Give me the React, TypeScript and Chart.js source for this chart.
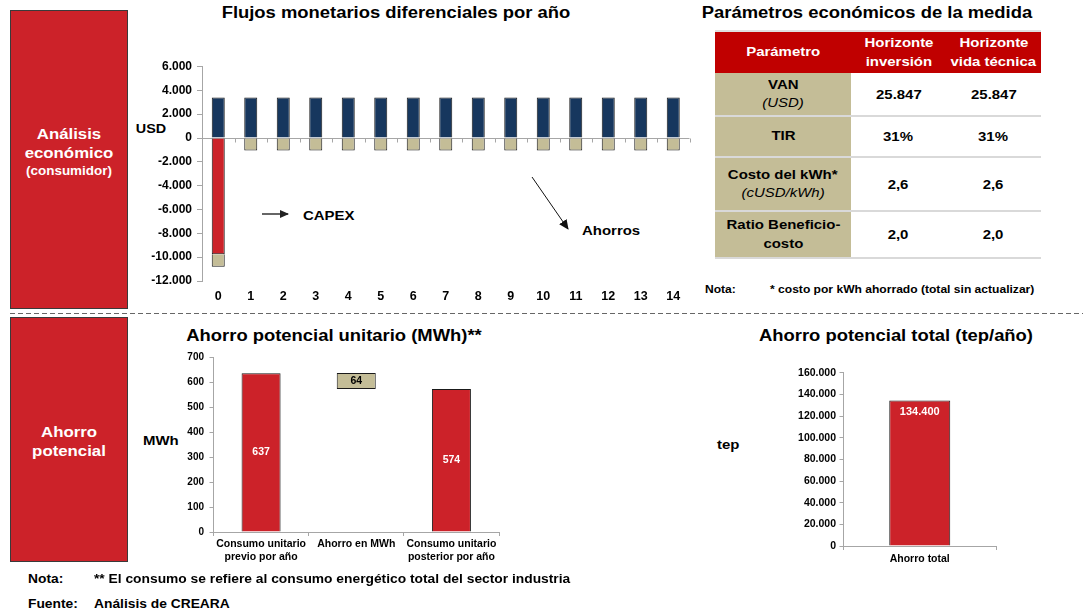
import React, { useEffect, useRef } from 'react';
import { Chart, registerables } from 'chart.js';

Chart.register(...registerables);

const FONT = '"Liberation Sans", Arial, sans-serif';
Chart.defaults.font.family = FONT;

const RED = '#CC2229';
const NAVY = '#17375E';
const KHAKI = '#C4BD97';
const HEAD_RED = '#C00000';
const AXIS = '#A6A6A6';
const EDGE = '#1A1A1A';
const SX = 1.15;

// ---------- Chart 1: Flujos monetarios diferenciales por año ----------
const years = ['0', '1', '2', '3', '4', '5', '6', '7', '8', '9', '10', '11', '12', '13', '14'];
const ahorrosUSD = [3400, 3400, 3400, 3400, 3400, 3400, 3400, 3400, 3400, 3400, 3400, 3400, 3400, 3400, 3400];
const capexUSD = [-9750, null, null, null, null, null, null, null, null, null, null, null, null, null, null];
const oymUSD = [-1050, -1050, -1050, -1050, -1050, -1050, -1050, -1050, -1050, -1050, -1050, -1050, -1050, -1050, -1050];
const flujoMin = -12000;
const flujoMax = 6000;
const flujoStep = 2000;

// ---------- Chart 2: Ahorro potencial unitario (MWh) ----------
const unitCategories = [['Consumo unitario', 'previo por año'], 'Ahorro en MWh', ['Consumo unitario', 'posterior por año']];
const consumoPrevioMWh = 637;
const ahorroMWh = 64;
const consumoPosteriorMWh = 574;
const unitMax = 700;
const unitStep = 100;

// ---------- Chart 3: Ahorro potencial total (tep/año) ----------
const totalCategories = ['Ahorro total'];
const ahorroTotalTep = [134400];
const totalMax = 160000;
const totalStep = 20000;

// ---------- Table ----------
const paramHeaders = [['Parámetro'], ['Horizonte', 'inversión'], ['Horizonte', 'vida técnica']];
const paramNames = [['VAN'], ['TIR'], ['Costo del kWh*'], ['Ratio Beneficio-', 'costo']];
const paramUnits = ['(USD)', '', '(cUSD/kWh)', ''];
const horizonteInversion = ['25.847', '31%', '2,6', '2,0'];
const horizonteVidaTecnica = ['25.847', '31%', '2,6', '2,0'];

const fmtThousands = (v: number) => {
  const s = Math.round(Math.abs(v)).toString().replace(/\B(?=(\d{3})+(?!\d))/g, '.');
  return (v < 0 ? '-' : '') + s;
};

const tickFont = (size: number) => ({ family: FONT, size, weight: 'bold' as const });

const zeroTicks = {
  id: 'zeroTicks',
  afterDatasetsDraw(chart: any) {
    const xs = chart.scales.x;
    const ys = chart.scales.y;
    const y0 = Math.round(ys.getPixelForValue(0)) + 0.5;
    const ctx = chart.ctx;
    ctx.save();
    ctx.strokeStyle = AXIS;
    ctx.lineWidth = 1;
    ctx.beginPath();
    for (let i = 0; i <= years.length; i++) {
      const px = Math.round(xs.getPixelForValue(i - 0.5)) + 0.5;
      ctx.moveTo(px, y0);
      ctx.lineTo(px, y0 + 4);
    }
    ctx.stroke();
    ctx.restore();
  },
};

const valueLabels = (texts: string[], colors: string[], size: number, mode: 'center' | 'top') => ({
  id: 'valueLabels',
  afterDatasetsDraw(chart: any) {
    const ctx = chart.ctx;
    const meta = chart.getDatasetMeta(0);
    meta.data.forEach((el: any, i: number) => {
      const p = el.getProps(['x', 'y', 'base'], true);
      const top = Math.min(p.y, p.base);
      const yy = mode === 'center' ? (p.y + p.base) / 2 : top + 12;
      ctx.save();
      ctx.font = `bold ${size}px ${FONT}`;
      ctx.fillStyle = colors[i];
      ctx.textAlign = 'center';
      ctx.textBaseline = 'middle';
      ctx.fillText(texts[i], p.x, yy);
      ctx.restore();
    });
  },
});

const flujoConfig = (): any => ({
  type: 'bar',
  data: {
    labels: years,
    datasets: [
      { data: ahorrosUSD, backgroundColor: NAVY, borderColor: EDGE, borderWidth: 1 },
      { data: capexUSD, backgroundColor: RED, borderColor: EDGE, borderWidth: 1 },
      { data: oymUSD, backgroundColor: KHAKI, borderColor: EDGE, borderWidth: 1 },
    ],
  },
  options: {
    responsive: false,
    animation: false,
    layout: { padding: { top: 26.5, right: 10.5, bottom: 0, left: 0 } },
    plugins: { legend: { display: false }, tooltip: { enabled: false } },
    datasets: { bar: { categoryPercentage: 1, barPercentage: 0.4 } },
    scales: {
      x: {
        stacked: true,
        grid: { display: false, drawTicks: false },
        border: { display: false },
        ticks: { color: '#000', font: tickFont(12.5), padding: 8, maxRotation: 0, autoSkip: false },
        afterFit: (s: any) => { s.height = 34; },
      },
      y: {
        stacked: true,
        min: flujoMin,
        max: flujoMax,
        ticks: { stepSize: flujoStep, color: '#000', font: tickFont(12), padding: 5, callback: (v: any) => fmtThousands(Number(v)) },
        grid: {
          color: (c: any) => (c.tick && c.tick.value === 0 ? AXIS : 'rgba(0,0,0,0)'),
          tickColor: AXIS,
          tickLength: 5,
        },
        border: { color: AXIS },
        afterFit: (s: any) => { s.width = 72; },
      },
    },
  },
  plugins: [zeroTicks],
});

const unitConfig = (): any => ({
  type: 'bar',
  data: {
    labels: unitCategories,
    datasets: [
      {
        data: [
          [0, consumoPrevioMWh],
          [consumoPosteriorMWh, consumoPosteriorMWh + ahorroMWh],
          [0, consumoPosteriorMWh],
        ],
        backgroundColor: [RED, KHAKI, RED],
        borderColor: EDGE,
        borderWidth: 1,
        borderSkipped: (c: any) => (c.dataIndex === 1 ? false : 'start'),
      },
    ],
  },
  options: {
    responsive: false,
    animation: false,
    layout: { padding: { top: 17.5, right: 11, bottom: 0, left: 0 } },
    plugins: { legend: { display: false }, tooltip: { enabled: false } },
    datasets: { bar: { categoryPercentage: 1, barPercentage: 0.41 } },
    scales: {
      x: {
        grid: { display: true, drawOnChartArea: false, drawTicks: true, tickLength: 4, color: AXIS },
        border: { color: AXIS },
        ticks: { color: '#000', font: { ...tickFont(10.5), lineHeight: 1.25 }, padding: 1.5, maxRotation: 0, autoSkip: false },
        afterFit: (s: any) => { s.height = 43; },
      },
      y: {
        min: 0,
        max: unitMax,
        ticks: { stepSize: unitStep, color: '#000', font: tickFont(10), padding: 5.5 },
        grid: { drawOnChartArea: false, tickLength: 4, color: AXIS },
        border: { color: AXIS },
        afterFit: (s: any) => { s.width = 73.5; },
      },
    },
  },
  plugins: [
    valueLabels(
      [String(consumoPrevioMWh), String(ahorroMWh), String(consumoPosteriorMWh)],
      ['#fff', '#000', '#fff'],
      10.5,
      'center'
    ),
  ],
});

const totalConfig = (): any => ({
  type: 'bar',
  data: {
    labels: totalCategories,
    datasets: [{ data: ahorroTotalTep, backgroundColor: RED, borderColor: EDGE, borderWidth: 1 }],
  },
  options: {
    responsive: false,
    animation: false,
    layout: { padding: { top: 17.7, right: 24, bottom: 0, left: 0 } },
    plugins: { legend: { display: false }, tooltip: { enabled: false } },
    datasets: { bar: { categoryPercentage: 1, barPercentage: 0.4 } },
    scales: {
      x: {
        grid: { display: true, drawOnChartArea: false, drawTicks: true, tickLength: 4, color: AXIS },
        border: { color: AXIS },
        ticks: { color: '#000', font: { ...tickFont(10.5), lineHeight: 1.25 }, padding: 2.4, maxRotation: 0, autoSkip: false },
        afterFit: (s: any) => { s.height = 34; },
      },
      y: {
        min: 0,
        max: totalMax,
        ticks: { stepSize: totalStep, color: '#000', font: tickFont(10.5), padding: 3.5, callback: (v: any) => fmtThousands(Number(v)) },
        grid: { drawOnChartArea: false, tickLength: 4, color: AXIS },
        border: { color: AXIS },
        afterFit: (s: any) => { s.width = 83.5; },
      },
    },
  },
  plugins: [valueLabels(ahorroTotalTep.map(fmtThousands), ['#fff'], 11, 'top')],
});

function ChartCanvas(props: { left: number; top: number; width: number; height: number; config: () => any }) {
  const ref = useRef<HTMLCanvasElement | null>(null);
  useEffect(() => {
    const chart = new Chart(ref.current as HTMLCanvasElement, props.config());
    return () => chart.destroy();
  }, []);
  return (
    <canvas
      ref={ref}
      width={props.width}
      height={props.height}
      style={{ position: 'absolute', left: props.left, top: props.top, width: props.width, height: props.height, display: 'block' }}
    />
  );
}

function Txt(props: {
  x: number;
  y: number;
  size: number;
  children: React.ReactNode;
  align?: 'center' | 'left';
  color?: string;
  italic?: boolean;
  weight?: string;
  sx?: number;
}) {
  const center = (props.align || 'center') === 'center';
  const sx = props.sx ?? SX;
  return (
    <div
      style={{
        position: 'absolute',
        left: props.x,
        top: props.y,
        fontSize: props.size,
        lineHeight: 1,
        fontWeight: (props.weight || 'bold') as any,
        fontStyle: props.italic ? 'italic' : 'normal',
        color: props.color || '#000',
        whiteSpace: 'nowrap',
        transformOrigin: center ? 'center center' : 'left center',
        transform: center ? `translate(-50%, -50%) scaleX(${sx})` : `translateY(-50%) scaleX(${sx})`,
      }}
    >
      {props.children}
    </div>
  );
}

function Cell(props: { left: number; top: number; width: number; height: number; bg: string; children: React.ReactNode }) {
  return (
    <div
      style={{
        position: 'absolute',
        left: props.left,
        top: props.top,
        width: props.width,
        height: props.height,
        background: props.bg,
        display: 'flex',
        flexDirection: 'column',
        alignItems: 'center',
        justifyContent: 'center',
      }}
    >
      {props.children}
    </div>
  );
}

function Line(props: { text: string; color?: string; italic?: boolean; bold?: boolean }) {
  return (
    <div
      style={{
        fontSize: 13,
        lineHeight: '18.5px',
        fontWeight: props.bold === false ? 'normal' : 'bold',
        fontStyle: props.italic ? 'italic' : 'normal',
        color: props.color || '#000',
        whiteSpace: 'nowrap',
        transform: `scaleX(${SX})`,
      }}
    >
      {props.text}
    </div>
  );
}

const tableLeft = 715;
const colEdges = [715, 851, 946, 1041];
const headTop = 32;
const headBottom = 73;
const rowTops = [73, 117, 158, 212];
const rowBottoms = [115, 156, 210, 257];

export default function App() {
  return (
    <div
      style={{
        position: 'absolute',
        left: 0,
        top: 0,
        width: 1083,
        height: 613,
        background: '#fff',
        fontFamily: FONT,
        overflow: 'hidden',
      }}
    >
      {/* Left red boxes */}
      <div style={{ position: 'absolute', left: 10, top: 10, width: 118, height: 299, background: RED, border: '1px solid #3a3a3a', boxSizing: 'border-box' }} />
      <div style={{ position: 'absolute', left: 10, top: 317, width: 118, height: 245, background: RED, border: '1px solid #3a3a3a', boxSizing: 'border-box' }} />
      <Txt x={69} y={132.5} size={15} color="#fff" sx={1.12}>Análisis</Txt>
      <Txt x={69} y={151.5} size={15} color="#fff" sx={1.12}>económico</Txt>
      <Txt x={69} y={170.5} size={12} color="#fff" sx={1.12}>(consumidor)</Txt>
      <Txt x={69} y={431} size={15} color="#fff" sx={1.12}>Ahorro</Txt>
      <Txt x={69} y={449.5} size={15} color="#fff" sx={1.12}>potencial</Txt>

      {/* Titles */}
      <Txt x={396} y={13} size={16}>Flujos monetarios diferenciales por año</Txt>
      <Txt x={867} y={12.5} size={16}>Parámetros económicos de la medida</Txt>
      <Txt x={334} y={336} size={16}>Ahorro potencial unitario (MWh)**</Txt>
      <Txt x={896} y={336} size={16}>Ahorro potencial total (tep/año)</Txt>

      {/* Axis titles and annotations */}
      <Txt x={151} y={129} size={12.5}>USD</Txt>
      <Txt x={303} y={215} size={13} align="left">CAPEX</Txt>
      <Txt x={582} y={230} size={13} align="left">Ahorros</Txt>
      <Txt x={143} y={440} size={13} align="left">MWh</Txt>
      <Txt x={717} y={444} size={13} align="left">tep</Txt>

      {/* Charts */}
      <ChartCanvas left={130} top={40} width={570} height={275} config={flujoConfig} />
      <ChartCanvas left={140} top={340} width={370} height={235} config={unitConfig} />
      <ChartCanvas left={760} top={355} width={260} height={225} config={totalConfig} />

      {/* Table */}
      <div style={{ position: 'absolute', left: tableLeft, top: headTop - 2, width: colEdges[3] - tableLeft, height: 2, background: '#E0E0E0' }} />
      <div style={{ position: 'absolute', left: tableLeft, top: headTop, width: colEdges[3] - tableLeft, height: headBottom - headTop, background: HEAD_RED }} />
      {paramHeaders.map((h, c) => (
        <Cell key={'h' + c} left={colEdges[c]} top={headTop} width={colEdges[c + 1] - colEdges[c]} height={headBottom - headTop} bg="transparent">
          {h.map((t, k) => (
            <Line key={k} text={t} color="#fff" />
          ))}
        </Cell>
      ))}
      {paramNames.map((name, r) => (
        <React.Fragment key={'r' + r}>
          <div style={{ position: 'absolute', left: tableLeft, top: rowBottoms[r], width: colEdges[3] - tableLeft, height: 2, background: '#D9D9D9' }} />
          <Cell left={colEdges[0]} top={rowTops[r]} width={colEdges[1] - colEdges[0]} height={rowBottoms[r] - rowTops[r]} bg={KHAKI}>
            {name.map((t, k) => (
              <Line key={k} text={t} />
            ))}
            {paramUnits[r] ? <Line text={paramUnits[r]} italic bold={false} /> : null}
          </Cell>
          <Cell left={colEdges[1]} top={rowTops[r] + 1} width={colEdges[2] - colEdges[1]} height={rowBottoms[r] - rowTops[r]} bg="transparent">
            <Line text={horizonteInversion[r]} />
          </Cell>
          <Cell left={colEdges[2]} top={rowTops[r] + 1} width={colEdges[3] - colEdges[2]} height={rowBottoms[r] - rowTops[r]} bg="transparent">
            <Line text={horizonteVidaTecnica[r]} />
          </Cell>
        </React.Fragment>
      ))}

      {/* Notes */}
      <Txt x={705} y={289} size={10.5} align="left">Nota:</Txt>
      <Txt x={770} y={289} size={10.5} align="left">* costo por kWh ahorrado (total sin actualizar)</Txt>
      <Txt x={27.5} y={579} size={12} align="left">Nota:</Txt>
      <Txt x={94} y={579} size={12} align="left">** El consumo se refiere al consumo energético total del sector industria</Txt>
      <Txt x={27.5} y={604} size={12} align="left">Fuente:</Txt>
      <Txt x={94} y={604} size={12} align="left">Análisis de CREARA</Txt>

      {/* Dashed separator and arrows */}
      <svg width={1083} height={613} style={{ position: 'absolute', left: 0, top: 0, pointerEvents: 'none' }}>
        <defs>
          <marker id="arrowA" markerWidth="9" markerHeight="8" refX="8" refY="4" orient="auto" markerUnits="userSpaceOnUse">
            <path d="M0,0 L9,4 L0,8 z" fill="#222" />
          </marker>
          <marker id="arrowB" markerWidth="10" markerHeight="9" refX="9" refY="4.5" orient="auto" markerUnits="userSpaceOnUse">
            <path d="M0,0 L10,4.5 L0,9 z" fill="#111" />
          </marker>
        </defs>
        <line x1={10} y1={313.5} x2={1083} y2={313.5} stroke="#666" strokeWidth={1} strokeDasharray="5 3" />
        <line x1={262} y1={214} x2={288} y2={214} stroke="#333" strokeWidth={1.5} markerEnd="url(#arrowA)" />
        <line x1={532} y1={177} x2={568} y2={229} stroke="#111" strokeWidth={1} markerEnd="url(#arrowB)" />
      </svg>
    </div>
  );
}
